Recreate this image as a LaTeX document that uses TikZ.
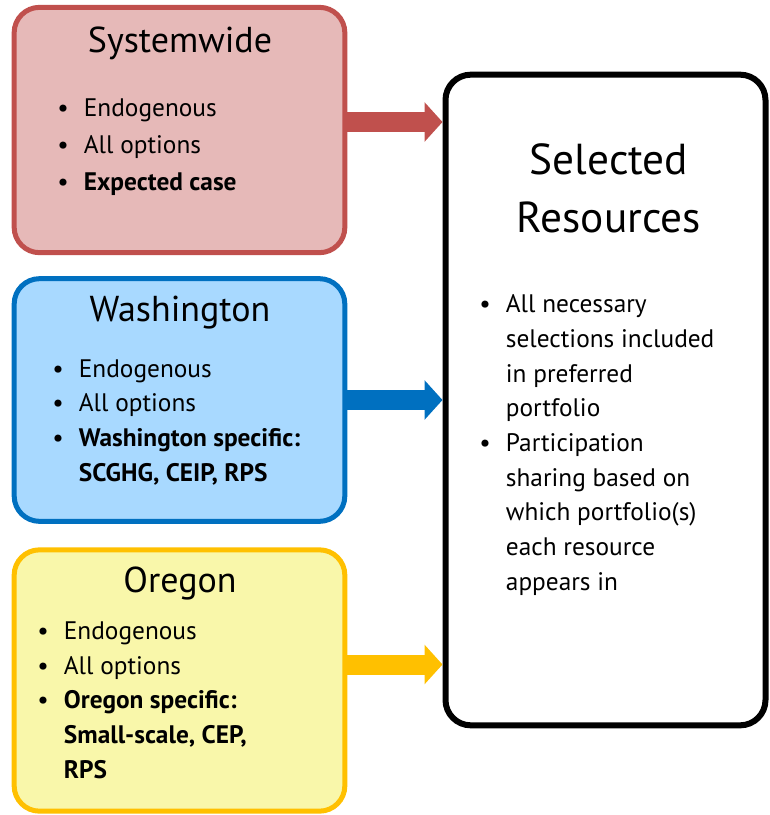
\documentclass[tikz,border=0pt]{standalone}
\usepackage{fontspec}
\setmainfont{PT Sans}
\usepackage{tikz}
\usetikzlibrary{arrows.meta}

\definecolor{swline}{HTML}{C0504D}
\definecolor{swfill}{HTML}{E6B9B8}
\definecolor{waline}{HTML}{0070C0}
\definecolor{wafill}{HTML}{A8D9FF}
\definecolor{orline}{HTML}{FFC000}
\definecolor{orfill}{HTML}{F9F7AA}

\newcommand{\bul}{\makebox[20pt][l]{\textbullet}}
\newcommand{\ind}{\hspace*{20pt}}

\begin{document}
\begin{tikzpicture}[x=0.75pt,y=-0.75pt]
\tikzset{
  box/.style={draw,rounded corners=19pt,line width=3.75pt,inner sep=0pt},
  title/.style={anchor=base,font=\fontsize{27}{32}\selectfont},
  bigtitle/.style={anchor=base,align=center,font=\fontsize{32.5}{43}\selectfont},
  items/.style={anchor=base west,align=left,inner sep=0pt,font=\fontsize{19}{26}\selectfont},
  flow/.style={line width=15pt,-{Triangle[length=13.5pt,width=29pt]}}
}
\useasboundingbox (0,0) rectangle (769,815);

% left boxes
\node[box,draw=swline,fill=swfill,minimum width=248pt,minimum height=184pt] (sw) at (179.5,130) {};
\node[box,draw=waline,fill=wafill,minimum width=248pt,minimum height=182pt] (wa) at (179.5,400) {};
\node[box,draw=orline,fill=orfill,minimum width=248pt,minimum height=196pt] (or) at (179.5,680.5) {};
% right box
\node[box,draw=black,fill=white,line width=4.5pt,minimum width=240pt,minimum height=488pt] (res) at (605.5,400) {};

% titles
\node[title] (sw-title) at (180,52) {Systemwide};
\node[title] (wa-title) at (180,321) {Washington};
\node[title] (or-title) at (180,592) {Oregon};
\node[bigtitle] (res-title) at (609,232) {Selected\\Resources};

% lists (base = last line)
\node[items,font=\fontsize{19}{27.4}\selectfont] (sw-list) at (57,190) {\bul Endogenous\\ \bul All options\\ \bul\textbf{Expected case}};
\node[items] (wa-list) at (52,481) {\bul Endogenous\\ \bul All options\\ \bul\textbf{Washington specific:}\\ \ind\textbf{SCGHG, CEIP, RPS}};
\node[items] (or-list) at (37,778) {\bul Endogenous\\ \bul All options\\ \bul\textbf{Oregon specific:}\\ \ind\textbf{Small-scale, CEP,}\\ \ind\textbf{RPS}};
\node[items] (res-list) at (479,590) {\bul All necessary\\ \ind selections included\\ \ind in preferred\\ \ind portfolio\\ \bul Participation\\ \ind sharing based on\\ \ind which portfolio(s)\\ \ind each resource\\ \ind appears in};

% arrows
\draw[flow,swline] ([yshift=6pt]sw.east) -- ([yshift=6pt]sw.east -| res.west);
\draw[flow,waline] (wa.east) -- (res.west);
\draw[flow,orline] ([yshift=12pt]or.east) -- ([yshift=12pt]or.east -| res.west);
\end{tikzpicture}
\end{document}
